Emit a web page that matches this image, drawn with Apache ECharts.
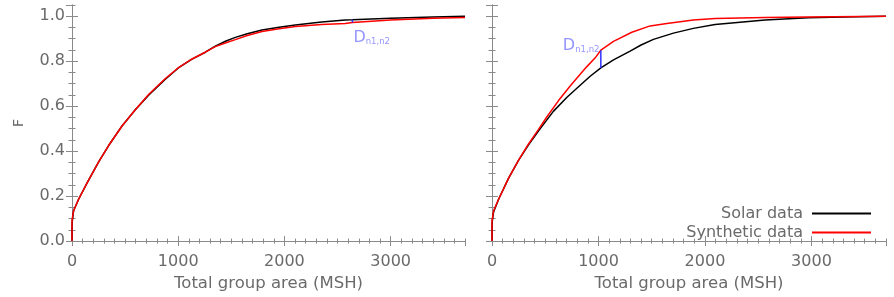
<!DOCTYPE html>
<html><head><meta charset="utf-8">
<script src="https://cdn.jsdelivr.net/npm/echarts@6/dist/echarts.min.js"></script>
<style>html,body{margin:0;padding:0;background:#fff}#c{width:894px;height:297px}</style>
</head><body><div id="c"></div>
<script>
// ---- data ----
const xTickLabels = ['0', '1000', '2000', '3000'];
const yTickLabels = ['0.0', '0.2', '0.4', '0.6', '0.8', '1.0'];

const leftSolarX = [0, 0, 3, 15, 62, 141, 251, 345, 471, 596, 721, 879, 1004, 1130, 1255, 1349, 1450, 1538, 1650, 1789, 1950, 2103, 2350, 2573, 2640, 3000, 3400, 3700];
const leftSolarY = [0, 0.06, 0.09, 0.135, 0.186, 0.258, 0.352, 0.425, 0.512, 0.584, 0.649, 0.720, 0.771, 0.809, 0.840, 0.867, 0.890, 0.906, 0.922, 0.939, 0.951, 0.961, 0.974, 0.983, 0.984, 0.991, 0.997, 1.0];
const leftSynthX = [0, 0, 3, 15, 62, 141, 251, 345, 471, 596, 721, 879, 1004, 1130, 1255, 1349, 1450, 1538, 1650, 1789, 1950, 2103, 2350, 2573, 2640, 3000, 3400, 3700];
const leftSynthY = [0, 0.09, 0.10, 0.135, 0.186, 0.258, 0.352, 0.425, 0.512, 0.584, 0.652, 0.723, 0.772, 0.810, 0.840, 0.865, 0.882, 0.896, 0.914, 0.932, 0.944, 0.954, 0.963, 0.968, 0.972, 0.983, 0.991, 0.994];

const rightSolarX = [0, 0, 3, 15, 62, 156, 250, 343, 453, 578, 704, 828, 922, 1022, 1141, 1297, 1400, 1516, 1704, 1891, 2095, 2564, 2970, 3300, 3700];
const rightSolarY = [0, 0.06, 0.09, 0.13, 0.186, 0.28, 0.36, 0.428, 0.500, 0.578, 0.640, 0.693, 0.733, 0.770, 0.806, 0.845, 0.872, 0.897, 0.925, 0.946, 0.963, 0.983, 0.993, 0.997, 1.0];
const rightSynthX = [0, 0, 15, 62, 156, 250, 343, 437, 516, 625, 734, 828, 891, 969, 1022, 1141, 1313, 1485, 1642, 1891, 2095, 2564, 2970, 3700];
const rightSynthY = [0, 0.09, 0.135, 0.186, 0.28, 0.36, 0.432, 0.497, 0.553, 0.625, 0.690, 0.742, 0.776, 0.815, 0.849, 0.888, 0.929, 0.957, 0.968, 0.983, 0.990, 0.994, 0.997, 1.0];

// KS distance markers: x position, lower and upper F
const dLeft = [2640, 0.972, 0.984];
const dRight = [1022, 0.770, 0.849];

const seriesNames = ['Solar data', 'Synthetic data'];

// ---- chart ----
const axisColor = '#8a8a8a';
const textColor = '#6a6a6a';
const FONT = 'DejaVu Sans';
const zip = (xs, ys) => xs.map((x, i) => [x, ys[i]]);

function xAxes(g) {
  const base = {type: 'value', gridIndex: g, min: 0, max: 3700, splitLine: {show: false}};
  return [
    Object.assign({}, base, {
      position: 'bottom', interval: 1000,
      axisLine: {show: true, lineStyle: {color: axisColor, width: 1}},
      axisTick: {show: true, inside: true, length: 5, lineStyle: {color: axisColor}},
      axisLabel: {show: true, margin: 13, color: textColor, fontSize: 16, fontFamily: FONT, showMaxLabel: false,
        formatter: v => { const i = Math.round(v / 1000); return (Math.abs(v - i * 1000) < 1e-6 && xTickLabels[i] !== undefined) ? xTickLabels[i] : ''; }},
      name: 'Total group area (MSH)', nameLocation: 'middle', nameGap: 33,
      nameTextStyle: {color: textColor, fontSize: 16.5, fontFamily: FONT}
    }),
    Object.assign({}, base, {
      position: 'bottom', interval: 100, axisLine: {show: false},
      axisTick: {show: true, inside: true, length: 2.5, lineStyle: {color: axisColor}},
      axisLabel: {show: false}
    }),
    Object.assign({}, base, {
      position: 'top', interval: 1000,
      axisLine: {show: true, lineStyle: {color: axisColor, width: 1}},
      axisTick: {show: true, inside: true, length: 5, lineStyle: {color: axisColor}},
      axisLabel: {show: false}
    }),
    Object.assign({}, base, {
      position: 'top', interval: 100, axisLine: {show: false},
      axisTick: {show: true, inside: true, length: 2.5, lineStyle: {color: axisColor}},
      axisLabel: {show: false}
    })
  ];
}
function yAxes(g, labels) {
  const base = {type: 'value', gridIndex: g, min: 0, max: 1.05, splitLine: {show: false}};
  const major = Object.assign({}, base, {
    position: 'left', interval: 0.2,
    axisLine: {show: true, lineStyle: {color: axisColor, width: 1}},
    axisTick: {show: true, inside: true, length: 6, lineStyle: {color: axisColor}},
    axisLabel: {show: labels, margin: 7, color: textColor, fontSize: 16, fontFamily: FONT, showMaxLabel: false,
      formatter: v => { const i = Math.round(v / 0.2); return (Math.abs(v - i * 0.2) < 1e-6 && yTickLabels[i] !== undefined) ? yTickLabels[i] : ''; }}
  });
  if (labels) {
    Object.assign(major, {name: 'F', nameLocation: 'middle', nameGap: 46, nameRotate: 90,
      nameTextStyle: {color: textColor, fontSize: 14, fontFamily: FONT}});
  }
  return [
    major,
    Object.assign({}, base, {
      position: 'left', interval: 0.05, axisLine: {show: false},
      axisTick: {show: true, inside: true, length: 3.5, lineStyle: {color: axisColor}},
      axisLabel: {show: false}
    }),
    Object.assign({}, base, {
      position: 'right', interval: 0.2,
      axisLine: {show: true, lineStyle: {color: axisColor, width: 1}},
      axisTick: {show: true, inside: true, length: 6, lineStyle: {color: axisColor}},
      axisLabel: {show: false}
    }),
    Object.assign({}, base, {
      position: 'right', interval: 0.05, axisLine: {show: false},
      axisTick: {show: true, inside: true, length: 3.5, lineStyle: {color: axisColor}},
      axisLabel: {show: false}
    })
  ];
}

function curve(name, data, g, color) {
  return {name: name, type: 'line', xAxisIndex: g * 4, yAxisIndex: g * 4, data: data,
    symbol: 'none', smooth: false, clip: true, color: color,
    lineStyle: {color: color, width: 1.5}, z: color === '#000000' ? 3 : 4};
}
function dMarker(d, g, labelPos) {
  return [
    {type: 'line', xAxisIndex: g * 4, yAxisIndex: g * 4, data: [[d[0], d[1]], [d[0], d[2]]],
      symbol: 'none', lineStyle: {color: '#2f2fff', width: 1.5}, z: 5, silent: true},
    {type: 'scatter', xAxisIndex: g * 4, yAxisIndex: g * 4, data: [[d[0], d[2]]],
      symbolSize: 0, silent: true, z: 6,
      label: {show: true, position: labelPos, formatter: '{d|D}{s|n1,n2}',
        rich: {
          d: {fontSize: 16, fontFamily: FONT, color: '#7a7aff', lineHeight: 18, verticalAlign: 'bottom'},
          s: {fontSize: 8.5, fontFamily: FONT, color: '#7a7aff', lineHeight: 8, verticalAlign: 'bottom'}
        }}}
  ];
}

const chart = echarts.init(document.getElementById('c'), null, {renderer: 'canvas'});
chart.setOption({
  animation: false,
  backgroundColor: '#ffffff',
  grid: [
    {left: 72, top: 5, width: 393, height: 241},
    {left: 492, top: 5, width: 394, height: 241}
  ],
  xAxis: xAxes(0).concat(xAxes(1)),
  yAxis: yAxes(0, true).concat(yAxes(1, false)),
  legend: {
    data: seriesNames, orient: 'vertical', align: 'right', right: 18, top: 199,
    icon: 'rect', itemWidth: 59, itemHeight: 2, itemGap: 0, selectedMode: false,
    textStyle: {color: textColor, fontSize: 16, fontFamily: FONT, lineHeight: 19, padding: [0, 4, 0, 0]}
  },
  series: [
    curve(seriesNames[0], zip(leftSolarX, leftSolarY), 0, '#000000'),
    curve(seriesNames[1], zip(leftSynthX, leftSynthY), 0, '#ff0000'),
    curve(seriesNames[0], zip(rightSolarX, rightSolarY), 1, '#000000'),
    curve(seriesNames[1], zip(rightSynthX, rightSynthY), 1, '#ff0000')
  ].concat(dMarker(dLeft, 0, [1, 8])).concat(dMarker(dRight, 1, [-38, -14]))
});
</script>
</body></html>
